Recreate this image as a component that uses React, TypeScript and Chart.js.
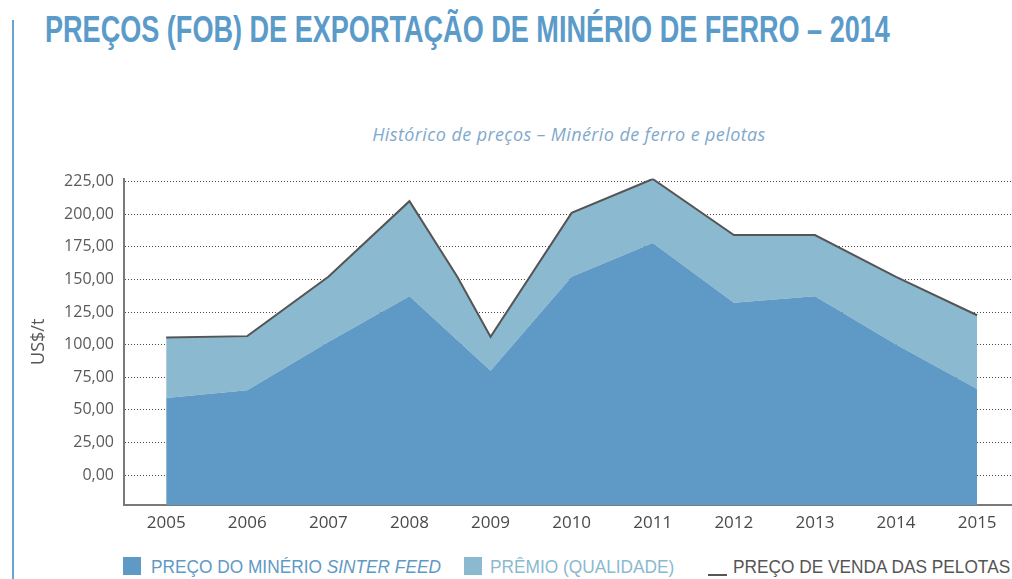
import React, { useEffect, useRef } from "react";
import { Chart, registerables } from "chart.js";

Chart.register(...registerables);

const years = [2005, 2006, 2007, 2008, 2009, 2010, 2011, 2012, 2013, 2014, 2015];
const sinterFeed = [59, 65, 102, 137, 80, 152, 178, 132, 137, 100, 66];
const pelotasX = [2005, 2006, 2007, 2008, 2008.59, 2009, 2010, 2011, 2012, 2013, 2014, 2015];
const pelotasPrice = [105.5, 106.5, 152, 210, 152, 106, 201, 227, 184, 184, 152, 122.5];
const yTicks = [0, 25, 50, 75, 100, 125, 150, 175, 200, 225];

const SINTER = "#5f99c5";
const PREMIO = "#8ab9d0";
const LINE = "#555555";

export default function App() {
  const ref = useRef<HTMLCanvasElement>(null);

  useEffect(() => {
    document.body.style.margin = "0";
    const ctx = ref.current!.getContext("2d")!;
    const chart = new Chart(ctx, {
      type: "line",
      data: {
        datasets: [
          {
            label: "PREÇO DO MINÉRIO SINTER FEED",
            data: years.map((y, i) => ({ x: y, y: sinterFeed[i] })),
            backgroundColor: SINTER,
            borderWidth: 0,
            borderColor: "rgba(0,0,0,0)",
            pointRadius: 0,
            fill: "start",
            tension: 0,
          },
          {
            label: "PREÇO DE VENDA DAS PELOTAS",
            data: pelotasX.map((x, i) => ({ x, y: pelotasPrice[i] })),
            backgroundColor: PREMIO,
            borderColor: LINE,
            borderWidth: 2,
            pointRadius: 0,
            fill: "-1",
            tension: 0,
          },
        ],
      },
      options: {
        animation: false,
        responsive: false,
        maintainAspectRatio: false,
        layout: { padding: { top: 0, right: 0, left: 28, bottom: 0 } },
        plugins: { legend: { display: false }, tooltip: { enabled: false } },
        scales: {
          x: {
            type: "linear",
            min: 2004.48,
            max: 2015.43,
            afterBuildTicks: (s: any) => {
              s.ticks = years.map((v) => ({ value: v }));
            },
            afterFit: (s: any) => {
              s.height = 45;
            },
            grid: { display: false, drawTicks: false },
            border: { display: true, color: "#7a7a7a", width: 2 },
            ticks: {
              color: "#4a4a4a",
              font: { family: "'Open Sans', sans-serif", size: 17 },
              padding: 8,
              callback: (v: any) => String(v),
              maxRotation: 0,
              autoSkip: false,
            },
          },
          y: {
            type: "linear",
            min: -23,
            max: 227.3,
            afterBuildTicks: (s: any) => {
              s.ticks = yTicks.map((v) => ({ value: v }));
            },
            afterFit: (s: any) => {
              s.width = 96;
            },
            grid: {
              color: "#4a4a4a",
              lineWidth: 1,
              drawTicks: false,
            },
            border: { display: true, color: "#7a7a7a", width: 2, dash: [1, 2] },
            ticks: {
              color: "#5a5a5a",
              font: { family: "'Open Sans', sans-serif", size: 16 },
              padding: 10,
              callback: (v: any) => Number(v).toFixed(2).replace(".", ","),
            },
            title: {
              display: true,
              text: "US$/t",
              color: "#555555",
              font: { family: "'Open Sans', sans-serif", size: 18 },
              padding: { top: 0, bottom: 0 },
            },
          },
        },
      },
    } as any);
    return () => chart.destroy();
  }, []);

  const legendText: React.CSSProperties = {
    fontFamily: "'Liberation Sans', sans-serif",
    fontSize: 18,
    position: "absolute",
    top: 556,
    whiteSpace: "nowrap",
    lineHeight: "22px",
    transform: "scaleX(0.96)",
    transformOrigin: "left center",
  };

  return (
    <div style={{ position: "relative", width: 1012, height: 579, overflow: "hidden", background: "#fff" }}>
      <div style={{ position: "absolute", left: 12, top: 20, width: 2, height: 570, background: "#6aa3cf" }} />
      <div
        style={{
          position: "absolute",
          left: 45,
          top: 10,
          fontFamily: "'Liberation Sans', sans-serif",
          fontWeight: "bold",
          fontSize: 36,
          color: "#5b9bc9",
          whiteSpace: "nowrap",
          lineHeight: "40px",
          transform: "scaleX(0.752)",
          transformOrigin: "left center",
        }}
      >
        PREÇOS (FOB) DE EXPORTAÇÃO DE MINÉRIO DE FERRO – 2014
      </div>
      <div
        style={{
          position: "absolute",
          left: 0,
          width: 1138,
          top: 122,
          textAlign: "center",
          fontFamily: "'Open Sans', sans-serif",
          fontStyle: "italic",
          fontSize: 18,
          letterSpacing: 0.4,
          color: "#7fa9cc",
          whiteSpace: "nowrap",
        }}
      >
        Histórico de preços – Minério de ferro e pelotas
      </div>
      <canvas ref={ref} width={1012} height={391} style={{ position: "absolute", left: 0, top: 159, width: 1012, height: 391 }} />
      <div style={{ position: "absolute", left: 123, top: 557, width: 18, height: 18, background: SINTER }} />
      <div style={{ ...legendText, left: 151, color: "#5f99c5" }}>
        PREÇO DO MINÉRIO <i>SINTER FEED</i>
      </div>
      <div style={{ position: "absolute", left: 464, top: 557, width: 18, height: 18, background: PREMIO }} />
      <div style={{ ...legendText, left: 490, color: "#8ab9d0" }}>PRÊMIO (QUALIDADE)</div>
      <div style={{ position: "absolute", left: 708, top: 574, width: 19, height: 2, background: LINE }} />
      <div style={{ ...legendText, left: 733, color: "#555555" }}>PREÇO DE VENDA DAS PELOTAS</div>
    </div>
  );
}
